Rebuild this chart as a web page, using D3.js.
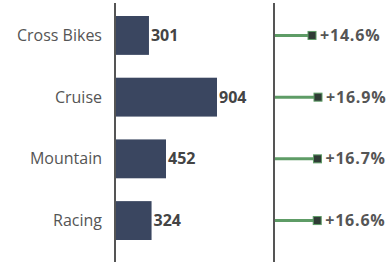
<!DOCTYPE html>
<html>
<head>
<meta charset="utf-8">
<script src="https://cdn.jsdelivr.net/npm/d3@7"></script>
<style>
  body { margin: 0; background: #fff; }
  text { font-family: "Open Sans", sans-serif; }
</style>
</head>
<body>
<svg width="387" height="266"></svg>
<script>
// chart data
const categories = ["Cross Bikes", "Cruise", "Mountain", "Racing"];
const revenue = [301, 904, 452, 324];
const growth = [14.6, 16.9, 16.7, 16.6];

const svg = d3.select("svg");

// shared band scale for both panels
const y = d3.scaleBand()
  .domain(categories)
  .range([16, 240])
  .paddingInner(0.37)
  .paddingOuter(0);
const mid = i => y(categories[i]) + y.bandwidth() / 2;

// left panel: bars
const barLeft = 115;
const x = d3.scaleLinear().domain([0, 904]).range([barLeft, 217]);

svg.selectAll(".cat")
  .data(categories)
  .enter().append("text")
    .attr("class", "cat")
    .attr("x", 102)
    .attr("y", d => y(d) + y.bandwidth() / 2)
    .attr("dy", "0.35em")
    .attr("text-anchor", "end")
    .style("font-size", "16px")
    .style("fill", "#555")
    .text(d => d);

svg.selectAll(".bar")
  .data(revenue)
  .enter().append("rect")
    .attr("class", "bar")
    .attr("x", barLeft)
    .attr("y", (d, i) => y(categories[i]))
    .attr("width", d => x(d) - barLeft)
    .attr("height", y.bandwidth())
    .style("fill", "#3a4660");

svg.selectAll(".val")
  .data(revenue)
  .enter().append("text")
    .attr("class", "val")
    .attr("x", d => x(d) + 2)
    .attr("y", (d, i) => mid(i))
    .attr("dy", "0.35em")
    .style("font-size", "16px")
    .style("font-weight", "bold")
    .style("fill", "#444")
    .text(d => d);

svg.append("line")
  .attr("x1", barLeft).attr("x2", barLeft)
  .attr("y1", 3).attr("y2", 262)
  .style("stroke", "#555")
  .style("stroke-width", 2);

// right panel: growth lollipops
const lineLeft = 274;
const g = d3.scaleLinear().domain([0, 16.9]).range([lineLeft, 318]);

svg.selectAll(".stem")
  .data(growth)
  .enter().append("line")
    .attr("class", "stem")
    .attr("x1", lineLeft)
    .attr("x2", d => g(d))
    .attr("y1", (d, i) => mid(i))
    .attr("y2", (d, i) => mid(i))
    .style("stroke", "#5e9c66")
    .style("stroke-width", 3);

svg.selectAll(".dot")
  .data(growth)
  .enter().append("rect")
    .attr("class", "dot")
    .attr("x", d => g(d) - 4)
    .attr("y", (d, i) => mid(i) - 4)
    .attr("width", 8)
    .attr("height", 8)
    .style("fill", "#2f3b35")
    .style("stroke", "#5e9c66")
    .style("stroke-width", 1);

svg.selectAll(".pct")
  .data(growth)
  .enter().append("text")
    .attr("class", "pct")
    .attr("x", d => g(d) + 8)
    .attr("y", (d, i) => mid(i))
    .attr("dy", "0.35em")
    .style("font-size", "16px")
    .style("font-weight", "bold")
    .style("letter-spacing", "0.8px")
    .style("fill", "#555")
    .text(d => "+" + d3.format(".1f")(d) + "%");

svg.append("line")
  .attr("x1", lineLeft).attr("x2", lineLeft)
  .attr("y1", 3).attr("y2", 262)
  .style("stroke", "#555")
  .style("stroke-width", 2);
</script>
</body>
</html>
